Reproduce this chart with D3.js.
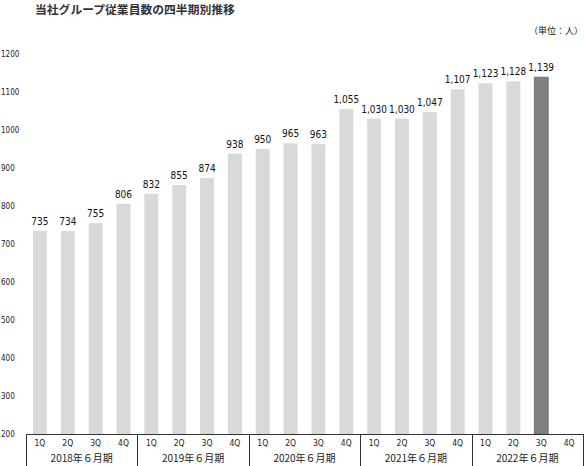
<!DOCTYPE html>
<html><head><meta charset="utf-8">
<script src="https://cdn.jsdelivr.net/npm/d3@7"></script>
<style>body{margin:0;background:#fff}svg{display:block}</style>
</head><body><svg id="c" width="585" height="466"></svg>
<script>
const years = ["2018年６月期","2019年６月期","2020年６月期","2021年６月期","2022年６月期"];
const quarters = ["1Q","2Q","3Q","4Q"];
const values = [735,734,755,806, 832,855,874,938, 950,965,963,1055, 1030,1030,1047,1107, 1123,1128,1139,null];
const yTicks = [200,300,400,500,600,700,800,900,1000,1100,1200];
const highlightIndex = 18;

(function(){
const svg = d3.select("#c");
const pl = 26, pr = 583, pt = 54, base = 434;
const cats = [];
years.forEach((yr,i)=>quarters.forEach((q,j)=>cats.push({key:i+"-"+q,q,yi:i,v:values[i*4+j],idx:i*4+j})));

const x = d3.scaleBand().domain(cats.map(d=>d.key)).range([pl,pr]).paddingInner(0.5).paddingOuter(0.25);
const y = d3.scaleLinear().domain([200,1200]).range([base,pt]);
const numFont = "'DejaVu Sans Condensed','Liberation Sans Narrow',sans-serif";
const jpFont = "'Noto Sans CJK JP',sans-serif";

svg.append("text").attr("x",35).attr("y",14).attr("font-family",jpFont).attr("font-size",11.8).attr("font-weight","bold").attr("fill","#333").text("当社グループ従業員数の四半期別推移");
svg.append("text").attr("x",583).attr("y",34).attr("text-anchor","end").attr("font-family",jpFont).attr("font-size",9).attr("fill","#222").text("（単位：人）");

svg.selectAll(".yt").data(yTicks).enter().append("text")
  .attr("x",1).attr("y",d=>y(d)+3).attr("font-family",numFont).attr("font-size",8).attr("fill","#222").text(d=>d);

const bd = cats.filter(d=>d.v!=null);
svg.selectAll(".bar").data(bd).enter().append("rect")
  .attr("x",d=>x(d.key)).attr("width",x.bandwidth())
  .attr("y",d=>y(d.v)).attr("height",d=>base-y(d.v))
  .attr("fill",d=>d.idx===highlightIndex?"#808080":"#d9d9d9")
  .attr("stroke",d=>d.idx===highlightIndex?"#6a6a6a":"none").attr("stroke-width",0.8);

const fmt = d3.format(",");
svg.selectAll(".vl").data(bd).enter().append("text")
  .attr("x",d=>x(d.key)+x.bandwidth()/2).attr("y",d=>y(d.v)-6)
  .attr("text-anchor","middle").attr("font-family",numFont).attr("font-size",10).attr("fill","#111")
  .text(d=>fmt(d.v));

svg.append("line").attr("x1",pl).attr("x2",pr).attr("y1",base+0.5).attr("y2",base+0.5).attr("stroke","#333").attr("stroke-width",1);
const step = x.step();
const seps = d3.range(0,21,4).map(i=> i===0 ? pl : (i===20 ? pr : x(cats[i].key) - step*x.paddingInner()/2));
svg.selectAll(".sep").data(seps).enter().append("line")
  .attr("x1",d=>Math.round(d)+0.5).attr("x2",d=>Math.round(d)+0.5).attr("y1",base).attr("y2",466).attr("stroke","#333").attr("stroke-width",1);

svg.selectAll(".ql").data(cats).enter().append("text")
  .attr("x",d=>x(d.key)+x.bandwidth()/2).attr("y",base+12)
  .attr("text-anchor","middle").attr("font-family",numFont).attr("font-size",8.5).attr("fill","#222").text(d=>d.q);

svg.selectAll(".yl").data(years).enter().append("text")
  .attr("x",(d,i)=>(seps[i]+seps[i+1])/2).attr("y",base+28)
  .attr("text-anchor","middle").attr("font-family",jpFont).attr("font-size",10).attr("fill","#222").text(d=>d);
})();
</script></body></html>
